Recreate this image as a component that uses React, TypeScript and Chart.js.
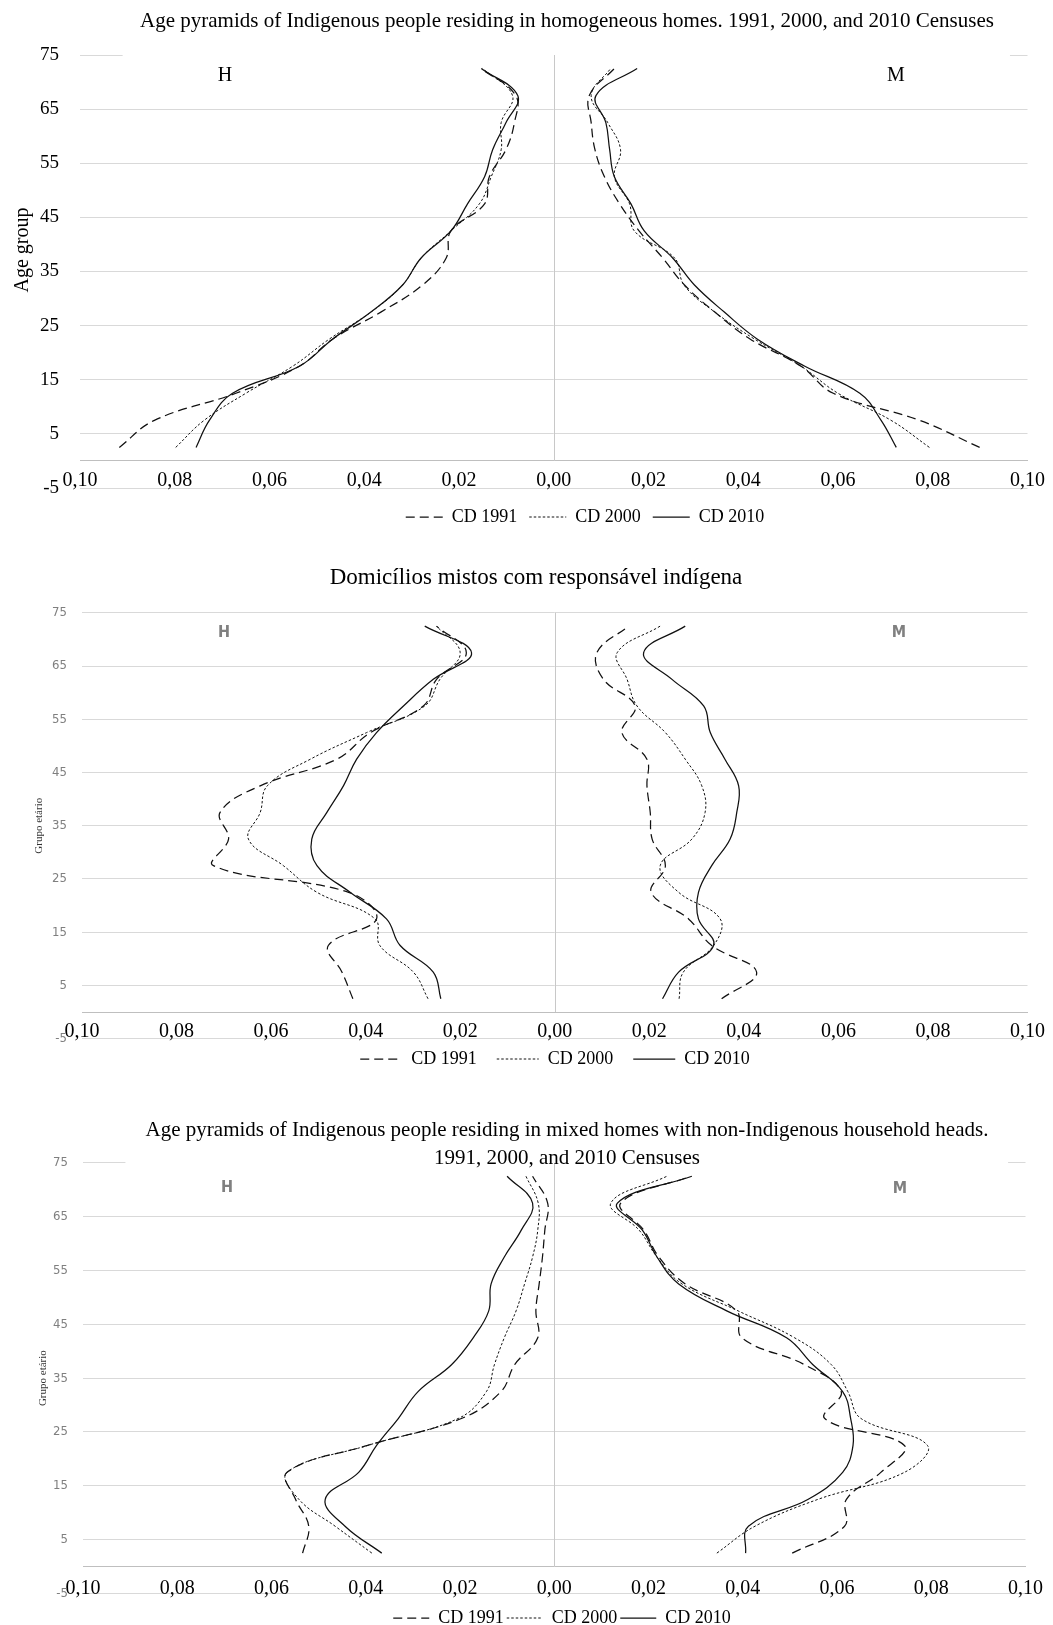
import React, { useEffect, useRef } from 'react';
import { Chart, registerables } from 'chart.js';

Chart.register(...registerables);

// ---------- data ----------
const ageGroups = [2.5, 7.5, 12.5, 17.5, 22.5, 27.5, 32.5, 37.5, 42.5, 47.5, 52.5, 57.5, 62.5, 67.5, 72.5];
const censusLabels = ['CD 1991', 'CD 2000', 'CD 2010'];
const xTickLabels = ['0,10', '0,08', '0,06', '0,04', '0,02', '0,00', '0,02', '0,04', '0,06', '0,08', '0,10'];
const sexLabels = ['H', 'M'];

const panelTitles = [
  ['Age pyramids of Indigenous people residing in homogeneous homes. 1991, 2000, and 2010 Censuses'],
  ['Domicílios mistos com responsável indígena'],
  ['Age pyramids of Indigenous people residing in mixed homes with non-Indigenous household heads.', '1991, 2000, and 2010 Censuses'],
];
const yAxisTitles = ['Age group', 'Grupo etário', 'Grupo etário'];

// Panel 1: homogeneous homes (shares; men drawn to the left)
const homMen1991 = [0.0917, 0.0843, 0.0671, 0.0537, 0.0467, 0.0365, 0.0277, 0.0227, 0.0217, 0.0146, 0.0136, 0.0101, 0.0083, 0.008, 0.0153];
const homMen2000 = [0.0798, 0.0738, 0.065, 0.0551, 0.0474, 0.0386, 0.0319, 0.028, 0.0217, 0.0157, 0.0132, 0.0111, 0.0111, 0.0087, 0.015];
const homMen2010 = [0.0755, 0.0727, 0.0678, 0.0537, 0.0467, 0.0386, 0.0319, 0.028, 0.0217, 0.0182, 0.0146, 0.0129, 0.0101, 0.0076, 0.0153];
const homWomen1991 = [0.0899, 0.0772, 0.059, 0.0522, 0.0415, 0.034, 0.0276, 0.023, 0.018, 0.0139, 0.0107, 0.0087, 0.0079, 0.0075, 0.0128];
const homWomen2000 = [0.0793, 0.0712, 0.06, 0.0522, 0.0424, 0.034, 0.0275, 0.0255, 0.017, 0.016, 0.0128, 0.0141, 0.0114, 0.0079, 0.012];
const homWomen2010 = [0.0723, 0.0691, 0.0646, 0.053, 0.043, 0.036, 0.0297, 0.0251, 0.0191, 0.0163, 0.0128, 0.0118, 0.011, 0.0089, 0.0176];

// Panel 2: mixed homes with Indigenous household head
const mixIndMen1991 = [0.0427, 0.045, 0.0479, 0.0377, 0.0436, 0.0722, 0.069, 0.0708, 0.0623, 0.0461, 0.039, 0.0278, 0.025, 0.0187, 0.025];
const mixIndMen2000 = [0.0268, 0.0299, 0.037, 0.038, 0.0503, 0.0574, 0.0648, 0.0623, 0.0608, 0.0517, 0.0398, 0.0275, 0.0243, 0.02, 0.025];
const mixIndMen2010 = [0.0241, 0.0257, 0.0327, 0.0356, 0.0433, 0.0503, 0.0514, 0.0482, 0.0447, 0.0419, 0.0377, 0.032, 0.0257, 0.0176, 0.0275];
const mixIndWomen1991 = [0.0353, 0.0427, 0.0332, 0.0283, 0.0204, 0.0234, 0.0206, 0.0202, 0.0195, 0.0195, 0.0142, 0.017, 0.0103, 0.0089, 0.0156];
const mixIndWomen2000 = [0.0263, 0.0272, 0.0336, 0.035, 0.0262, 0.0223, 0.029, 0.0318, 0.0311, 0.0276, 0.0234, 0.0174, 0.0153, 0.0132, 0.0223];
const mixIndWomen2010 = [0.0228, 0.0262, 0.0336, 0.0304, 0.0304, 0.0332, 0.0371, 0.0385, 0.0389, 0.036, 0.0329, 0.0315, 0.0248, 0.0188, 0.0276];

// Panel 3: mixed homes with non-Indigenous household head
const mixNonMen1991 = [0.0534, 0.0521, 0.0549, 0.0567, 0.0396, 0.0197, 0.0113, 0.0084, 0.0035, 0.0039, 0.0032, 0.0025, 0.002, 0.0014, 0.0046];
const mixNonMen2000 = [0.0387, 0.0465, 0.0542, 0.0567, 0.0396, 0.0204, 0.0144, 0.0127, 0.0106, 0.0081, 0.0063, 0.0046, 0.0035, 0.0034, 0.006];
const mixNonMen2010 = [0.0366, 0.0444, 0.0486, 0.0415, 0.0377, 0.0331, 0.0289, 0.0218, 0.0172, 0.0139, 0.0134, 0.0106, 0.007, 0.0046, 0.01];
const mixNonWomen1991 = [0.0505, 0.0616, 0.062, 0.0693, 0.0743, 0.0574, 0.0609, 0.0531, 0.0398, 0.0387, 0.0278, 0.0222, 0.019, 0.0141, 0.0289];
const mixNonWomen2000 = [0.0345, 0.0426, 0.056, 0.0743, 0.0792, 0.0651, 0.0623, 0.0588, 0.051, 0.039, 0.0271, 0.0218, 0.018, 0.012, 0.0239];
const mixNonWomen2010 = [0.0406, 0.0412, 0.0539, 0.0612, 0.0634, 0.0629, 0.0612, 0.0549, 0.0493, 0.0366, 0.0264, 0.0218, 0.0187, 0.0134, 0.0292];

// ---------- styles ----------
const SERIF = "'Liberation Serif', 'Times New Roman', serif";
const NARROW = "'Liberation Sans Narrow', 'DejaVu Sans Condensed', 'Liberation Sans', sans-serif";
const LINE_COLOR = '#111111';
const lineStyles = [
  { borderDash: [9, 5], borderWidth: 1.25 },
  { borderDash: [2.5, 2], borderWidth: 1 },
  { borderDash: [] as number[], borderWidth: 1.25 },
];

type PanelCfg = {
  top: number;
  height: number;
  padTop: number;
  padBottom: number;
  plotLeft: number;
  padRight: number;
  men: number[][];
  women: number[][];
  yTickFont: any;
  yTickColor: string;
  yTickPad: number;
  xTickPad: number;
  yTitle: any;
  legendPad: number;
  legendBox: number;
  legendDx: number;
  legendDy: number;
  mask75: number[] | null;
};

const decorPlugin = {
  id: 'decor',
  afterLayout(chart: any, _args: any, opts: any) {
    const lg = chart.legend;
    if (lg) {
      lg.left += opts.legendDx || 0;
      lg.right += opts.legendDx || 0;
      lg.top += opts.legendDy || 0;
      lg.bottom += opts.legendDy || 0;
    }
  },
  beforeDatasetsDraw(chart: any, _args: any, opts: any) {
    const { ctx, scales } = chart;
    const x = scales.x;
    const y = scales.y;
    ctx.save();
    if (opts.mask75) {
      const y75 = y.getPixelForValue(75);
      const xa = x.getPixelForValue(opts.mask75[0]);
      const xb = x.getPixelForValue(opts.mask75[1]);
      ctx.fillStyle = '#ffffff';
      ctx.fillRect(xa, y75 - 2, xb - xa, 4);
    }
    const x0 = Math.round(x.getPixelForValue(0)) + 0.5;
    ctx.strokeStyle = '#c8c8c8';
    ctx.lineWidth = 1;
    ctx.beginPath();
    ctx.moveTo(x0, y.getPixelForValue(75));
    ctx.lineTo(x0, y.getPixelForValue(0));
    ctx.stroke();
    ctx.restore();
  },
};

function buildDatasets(men: number[][], women: number[][]) {
  const out: any[] = [];
  const mk = (vals: number[], sign: number, i: number) => ({
    label: censusLabels[i],
    data: vals.map((v, k) => ({ x: sign * v, y: ageGroups[k] })),
    borderColor: LINE_COLOR,
    backgroundColor: 'transparent',
    borderWidth: lineStyles[i].borderWidth,
    borderDash: lineStyles[i].borderDash,
    showLine: true,
    fill: false,
    pointRadius: 0,
    pointHoverRadius: 0,
    tension: 0.4,
  });
  men.forEach((v, i) => out.push(mk(v, -1, i)));
  women.forEach((v, i) => out.push(mk(v, 1, i)));
  return out;
}

function PyramidPanel({ cfg }: { cfg: PanelCfg }) {
  const ref = useRef<HTMLCanvasElement | null>(null);
  useEffect(() => {
    if (!ref.current) return;
    const chart = new Chart(ref.current, {
      type: 'scatter',
      data: { datasets: buildDatasets(cfg.men, cfg.women) },
      plugins: [decorPlugin as any],
      options: {
        animation: false,
        responsive: false,
        maintainAspectRatio: false,
        events: [],
        layout: { padding: { top: cfg.padTop, bottom: cfg.padBottom, left: 0, right: cfg.padRight } },
        scales: {
          x: {
            type: 'linear',
            min: -0.1,
            max: 0.1,
            position: { y: 0 } as any,
            grid: { display: false, drawTicks: false },
            border: { display: true, color: '#bfbfbf', width: 1 },
            ticks: {
              stepSize: 0.02,
              padding: cfg.xTickPad,
              autoSkip: false,
              maxRotation: 0,
              color: '#000000',
              font: { family: SERIF, size: 20 },
              callback: (_v: any, i: number) => xTickLabels[i],
            },
          },
          y: {
            type: 'linear',
            min: -5,
            max: 75,
            position: 'left',
            grid: { color: '#d9d9d9', lineWidth: 1, drawTicks: false },
            border: { display: false },
            ticks: { stepSize: 10, padding: cfg.yTickPad, color: cfg.yTickColor, font: cfg.yTickFont },
            title: cfg.yTitle,
            afterFit: (s: any) => {
              s.width = cfg.plotLeft;
            },
          } as any,
        },
        plugins: {
          tooltip: { enabled: false },
          title: { display: false },
          legend: {
            display: true,
            position: 'bottom',
            align: 'center',
            labels: {
              usePointStyle: true,
              pointStyle: 'line',
              pointStyleWidth: cfg.legendBox,
              padding: cfg.legendPad,
              color: '#000000',
              font: { family: SERIF, size: 18 },
              generateLabels: (ch: any) =>
                ch.data.datasets.slice(0, 3).map((ds: any, i: number) => ({
                  text: ds.label,
                  fillStyle: 'transparent',
                  strokeStyle: LINE_COLOR,
                  fontColor: '#000000',
                  lineWidth: ds.borderWidth,
                  lineDash: ds.borderDash,
                  lineCap: 'butt',
                  pointStyle: 'line',
                  hidden: false,
                  datasetIndex: i,
                })),
            },
          },
          decor: { legendDx: cfg.legendDx, legendDy: cfg.legendDy, mask75: cfg.mask75 },
        } as any,
      },
    });
    return () => chart.destroy();
  }, [cfg]);
  return (
    <canvas
      ref={ref}
      width={1053}
      height={cfg.height}
      style={{ position: 'absolute', left: 0, top: cfg.top, width: 1053, height: cfg.height }}
    />
  );
}

const panel1: PanelCfg = {
  top: 0,
  height: 535,
  padTop: 55,
  padBottom: 7,
  plotLeft: 80,
  padRight: 25,
  men: [homMen1991, homMen2000, homMen2010],
  women: [homWomen1991, homWomen2000, homWomen2010],
  yTickFont: { family: SERIF, size: 19 },
  yTickColor: '#000000',
  yTickPad: 21,
  xTickPad: 8,
  yTitle: { display: false },
  legendPad: 12,
  legendBox: 37,
  legendDx: 71,
  legendDy: 8,
  mask75: [-0.091, 0.0963],
};

const panel2: PanelCfg = {
  top: 590,
  height: 500,
  padTop: 16.7,
  padBottom: 3.3,
  plotLeft: 82,
  padRight: 25,
  men: [mixIndMen1991, mixIndMen2000, mixIndMen2010],
  women: [mixIndWomen1991, mixIndWomen2000, mixIndWomen2010],
  yTickFont: { family: NARROW, size: 13 },
  yTickColor: '#7f7f7f',
  yTickPad: 15,
  xTickPad: 8,
  yTitle: { display: true, text: yAxisTitles[1], color: '#333333', font: { family: SERIF, size: 11 }, padding: { top: 33, bottom: 0 } },
  legendPad: 20,
  legendBox: 42,
  legendDx: 41,
  legendDy: -8.7,
  mask75: null,
};

const panel3: PanelCfg = {
  top: 1140,
  height: 485,
  padTop: 20.7,
  padBottom: 0.5,
  plotLeft: 83,
  padRight: 24,
  men: [mixNonMen1991, mixNonMen2000, mixNonMen2010],
  women: [mixNonWomen1991, mixNonWomen2000, mixNonWomen2010],
  yTickFont: { family: NARROW, size: 13 },
  yTickColor: '#7f7f7f',
  yTickPad: 15,
  xTickPad: 10,
  yTitle: { display: true, text: yAxisTitles[2], color: '#333333', font: { family: SERIF, size: 11 }, padding: { top: 37, bottom: 0 } },
  legendPad: 3,
  legendBox: 36,
  legendDx: 47.5,
  legendDy: 12.5,
  mask75: [-0.091, 0.0963],
};

const abs = (left: number, top: number, extra: any = {}) => ({ position: 'absolute' as const, left, top, ...extra });

function CenteredText({ cx, cy, text, style }: { cx: number; cy: number; text: string; style: any }) {
  const w = 900;
  const lh = 30;
  return (
    <div
      style={abs(cx - w / 2, cy - lh / 2, {
        width: w,
        height: lh,
        lineHeight: `${lh}px`,
        textAlign: 'center',
        whiteSpace: 'nowrap',
        pointerEvents: 'none',
        ...style,
      })}
    >
      {text}
    </div>
  );
}

export default function App() {
  const serifTitle = { fontFamily: SERIF, fontSize: 21, color: '#000' };
  const hmSerif = { fontFamily: SERIF, fontSize: 20, color: '#000' };
  const hmSans = { fontFamily: NARROW, fontSize: 16, fontWeight: 700, color: '#808080' };
  return (
    <div style={{ position: 'absolute', left: 0, top: 0, width: 1053, height: 1625, overflow: 'hidden', background: '#fff' }}>
      <PyramidPanel cfg={panel1} />
      <PyramidPanel cfg={panel2} />
      <PyramidPanel cfg={panel3} />

      <CenteredText cx={567} cy={20} text={panelTitles[0][0]} style={serifTitle} />
      <CenteredText cx={536} cy={577} text={panelTitles[1][0]} style={{ ...serifTitle, fontSize: 23 }} />
      <CenteredText cx={567} cy={1129} text={panelTitles[2][0]} style={serifTitle} />
      <CenteredText cx={567} cy={1157} text={panelTitles[2][1]} style={serifTitle} />

      <div
        style={abs(21 - 100, 250 - 12, {
          width: 200,
          height: 24,
          lineHeight: '24px',
          textAlign: 'center',
          transform: 'rotate(-90deg)',
          fontFamily: SERIF,
          fontSize: 20,
          color: '#000',
          whiteSpace: 'nowrap',
        })}
      >
        {yAxisTitles[0]}
      </div>

      <CenteredText cx={225} cy={74} text={sexLabels[0]} style={hmSerif} />
      <CenteredText cx={896} cy={74} text={sexLabels[1]} style={hmSerif} />
      <CenteredText cx={224} cy={632} text={sexLabels[0]} style={hmSans} />
      <CenteredText cx={899} cy={632} text={sexLabels[1]} style={hmSans} />
      <CenteredText cx={227} cy={1187} text={sexLabels[0]} style={hmSans} />
      <CenteredText cx={900} cy={1188} text={sexLabels[1]} style={hmSans} />
    </div>
  );
}
